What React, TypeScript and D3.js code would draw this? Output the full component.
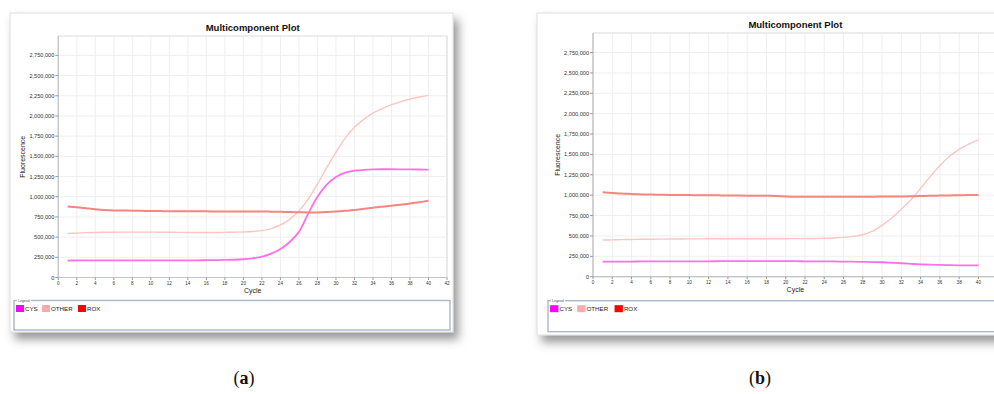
import React from 'react'
import * as d3 from 'd3'

// cycles 1..40, fluorescence in thousands
const cycles = d3.range(1, 41)

const cysA = [210, 211, 212, 212, 212, 212, 212, 212, 212, 212, 212, 213, 213, 213, 213, 214, 215, 217, 220, 226,
  238, 258, 295, 352, 440, 565, 790, 1000, 1150, 1245, 1298, 1322, 1332, 1338, 1340, 1340, 1339, 1338, 1337, 1336]
const otherA = [545, 550, 555, 558, 560, 561, 562, 562, 562, 562, 561, 560, 559, 558, 558, 558, 558, 559, 561, 564,
  570, 580, 606, 650, 720, 825, 970, 1155, 1360, 1550, 1725, 1860, 1958, 2035, 2092, 2140, 2178, 2210, 2235, 2255]
const roxA = [880, 870, 858, 846, 837, 831, 829, 827, 825, 823, 822, 821, 820, 820, 819, 819, 818, 818, 818, 818,
  818, 817, 815, 813, 810, 808, 806, 806, 810, 816, 825, 835, 850, 865, 877, 888, 900, 915, 932, 950]

const cysB = [185, 185, 186, 186, 187, 187, 187, 188, 188, 188, 189, 189, 190, 190, 190, 190, 190, 190, 190, 190,
  190, 189, 189, 188, 187, 185, 184, 182, 180, 177, 171, 165, 158, 152, 148, 145, 142, 140, 140, 140]
const otherB = [450, 452, 455, 457, 459, 460, 461, 462, 463, 464, 464, 465, 465, 465, 465, 465, 465, 466, 466, 466,
  467, 468, 469, 471, 475, 483, 495, 515, 558, 630, 720, 828, 945, 1085, 1228, 1365, 1478, 1562, 1628, 1678]
const roxB = [1035, 1028, 1020, 1015, 1010, 1007, 1005, 1003, 1002, 1001, 1000, 999, 998, 997, 995, 994, 993, 992, 990, 985,
  982, 982, 982, 982, 982, 982, 982, 982, 982, 983, 984, 985, 987, 990, 993, 995, 997, 999, 1001, 1003]

const yTicks = d3.range(0, 2750001, 250000)
const xTicks = d3.range(0, 43, 2)
const legendNames = ['CYS', 'OTHER', 'ROX']
const legendColors = ['#ff00ff', '#ffaaaa', '#ff0000']
const lineColors = ['#ff6fe8', '#fbc6c2', '#f4857f']
const lineWidths = [1.8, 1.4, 2]

const fmt = d3.format(',')

type PanelProps = {
  id: string
  card: [number, number, number, number]
  plot: [number, number, number, number] // left, right, top, bottom
  legend: [number, number, number, number]
  k: number
  series: number[][]
  caption: string
  capX: number
}

const Panel = ({ id, card, plot, legend, k, series, caption, capX }: PanelProps) => {
  const [pl, pr, pt, pb] = plot
  const x = d3.scaleLinear().domain([0, 42]).range([pl, pr])
  const y = d3.scaleLinear().domain([0, 2990000]).range([pb, pt])
  const line = d3.line<number>()
    .x((_, i) => x(cycles[i]))
    .y(d => y(d * 1000))
    .curve(d3.curveCatmullRom.alpha(0.5))
  const [lx, ly, lw, lh] = legend
  const sq = [2, 28, 64].map(v => lx + v * k)
  const tx = [11, 37, 73].map(v => lx + v * k)
  return (
    <g fontFamily="Arial, 'Liberation Sans', sans-serif">
      <rect x={card[0]} y={card[1]} width={card[2]} height={card[3]} fill="#fff" stroke="#dedede"
        filter={`url(#sh${id})`} />
      <text x={(pl + pr) / 2} y={pt - 5} textAnchor="middle" fontSize={9.5} fontWeight="bold" fill="#111">
        Multicomponent Plot
      </text>
      {xTicks.map(t => (
        <line key={'gx' + t} x1={x(t)} x2={x(t)} y1={pt} y2={pb} stroke="#efefef" strokeWidth={1} />
      ))}
      {yTicks.map(t => (
        <line key={'gy' + t} x1={pl} x2={pr} y1={y(t)} y2={y(t)} stroke="#efefef" strokeWidth={1} />
      ))}
      <rect x={pl} y={pt} width={pr - pl} height={pb - pt} fill="none" stroke="#dcdcdc" />
      <line x1={pl} x2={pl} y1={pt} y2={pb} stroke="#c4c4c4" strokeWidth={1.2} />
      <line x1={pl} x2={pr} y1={pb} y2={pb} stroke="#c4c4c4" strokeWidth={1.2} />
      {yTicks.map(t => (
        <g key={'ty' + t}>
          <line x1={pl - 3} x2={pl} y1={y(t)} y2={y(t)} stroke="#999" />
          <text x={pl - 4} y={y(t) + 2} textAnchor="end" fontSize={5.6} fill="#333">{fmt(t)}</text>
        </g>
      ))}
      {xTicks.filter(t => x(t) < 990).map(t => (
        <g key={'tx' + t}>
          <line x1={x(t)} x2={x(t)} y1={pb} y2={pb + 2.5} stroke="#999" />
          <text x={x(t)} y={pb + 7} textAnchor="middle" fontSize={4.6} fill="#333">{t}</text>
        </g>
      ))}
      <text x={x(21)} y={pb + 15} textAnchor="middle" fontSize={7} fill="#222">Cycle</text>
      <text transform={`translate(${pl - 33},${(pt + pb) / 2}) rotate(-90)`} textAnchor="middle" fontSize={7}
        fill="#222">Fluorescence</text>
      {series.map((s, i) => (
        <path key={'s' + i} d={line(s) ?? ''} fill="none" stroke={lineColors[i]} strokeWidth={lineWidths[i]} />
      ))}
      <rect x={lx} y={ly} width={lw} height={lh} fill="#fff" stroke="#a9b8cc" strokeWidth={1.4} />
      <rect x={lx + 3} y={ly - 2} width={14} height={3} fill="#fff" />
      <text x={lx + 4} y={ly + 1.2} fontSize={3.5} fill="#555">Legend</text>
      {legendNames.map((n, i) => (
        <g key={n}>
          <rect x={sq[i]} y={ly + 4.5} width={8 * k} height={7} fill={legendColors[i]} />
          <text x={tx[i]} y={ly + 10.5} fontSize={6.2} fill="#222">{n}</text>
        </g>
      ))}
      <text x={capX} y={384} textAnchor="middle" fontSize={18} fontFamily="'Liberation Serif', 'DejaVu Serif', serif"
        fill="#111">(<tspan fontWeight="bold">{caption}</tspan>)</text>
    </g>
  )
}

const App = () => (
  <svg width={994} height={394} style={{ position: 'absolute', left: 0, top: 0, background: '#fff' }}>
    <defs>
      {['a', 'b'].map(id => (
        <filter key={id} id={'sh' + id} x="-10%" y="-10%" width="125%" height="130%">
          <feDropShadow dx={5} dy={7} stdDeviation={5} floodColor="#555" floodOpacity={0.6} />
        </filter>
      ))}
    </defs>
    <Panel id="a" card={[10, 13, 443, 319]} plot={[58.3, 447, 36, 277.5]} legend={[14, 300.5, 436, 29.5]} k={1}
      series={[cysA, otherA, roxA]} caption="a" capX={244} />
    <Panel id="b" card={[537, 13, 480, 322]} plot={[593, 997.7, 33, 276.7]} legend={[548, 300.7, 470, 31]} k={1.04}
      series={[cysB, otherB, roxB]} caption="b" capX={760} />
  </svg>
)

export default App
